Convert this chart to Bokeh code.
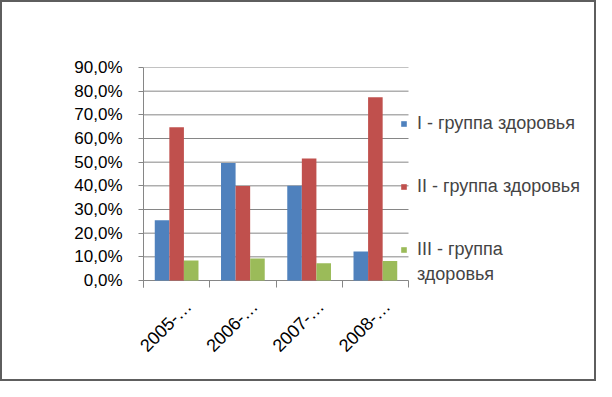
from bokeh.plotting import figure
from bokeh.models import (ColumnDataSource, FixedTicker, Legend, LegendItem, Range1d)
from bokeh.embed import file_html
from bokeh.resources import INLINE

# ---- data ----
periods = ["2005-…", "2006-…", "2007-…", "2008-…"]
group_I = [0.255, 0.496, 0.400, 0.123]
group_II = [0.648, 0.399, 0.516, 0.774]
group_III = [0.085, 0.093, 0.073, 0.082]
series_names = ["I - группа здоровья", "II - группа здоровья", "III - группа"]
series_name_tail = "здоровья"
series_colors = ["#4F81BD", "#C0504D", "#9BBB59"]
y_ticks = [0.0, 0.1, 0.2, 0.3, 0.4, 0.5, 0.6, 0.7, 0.8, 0.9]
y_tick_labels = ["0,0%", "10,0%", "20,0%", "30,0%", "40,0%", "50,0%",
                 "60,0%", "70,0%", "80,0%", "90,0%"]

FONT = "Liberation Sans"
GRID = "#868686"

# ---- layout (pixels) ----
cat_px = 66.25          # width of one category on screen
plot_px = 213           # height of the 0..90% span
below_px = 7            # frame continues below 0 for the category tick marks
frame_w = 442
frame_h = plot_px + below_px
y_max = y_ticks[-1]
y_min = -y_max * below_px / plot_px
x_max = frame_w / cat_px

centers = [i + 0.5 for i in range(len(periods))]
offsets = [-0.22, 0.0, 0.22]
bar_w = 0.22

p = figure(output_backend="svg", toolbar_location=None,
           frame_width=frame_w, frame_height=frame_h,
           min_border_left=141, min_border_right=592 - 141 - frame_w,
           min_border_top=65, min_border_bottom=377 - 65 - frame_h,
           x_range=Range1d(0, x_max), y_range=Range1d(y_min, y_max))
p.styles = {"border": "2px solid #5e5e5e"}
p.outline_line_color = None
p.background_fill_color = "white"
p.border_fill_color = "white"

# horizontal gridlines (incl. the 0 line acting as category axis line)
grid_src = ColumnDataSource(dict(x0=[0] * len(y_ticks), x1=[len(periods)] * len(y_ticks),
                                 y=y_ticks))
p.segment(x0="x0", y0="y", x1="x1", y1="y", source=grid_src,
          line_color=GRID, line_width=1)

renderers = []
for vals, off, col in zip([group_I, group_II, group_III], offsets, series_colors):
    src = ColumnDataSource(dict(x=[c + off for c in centers], top=vals))
    r = p.vbar(x="x", top="top", width=bar_w, bottom=0, source=src,
               fill_color=col, line_color=None)
    renderers.append(r)

# y axis
p.yaxis.ticker = FixedTicker(ticks=y_ticks)
p.yaxis.major_label_overrides = {t: l for t, l in zip(y_ticks, y_tick_labels)}
p.yaxis.major_label_text_font = FONT
p.yaxis.major_label_text_font_size = "17px"
p.yaxis.major_label_text_color = "black"
p.yaxis.axis_line_color = GRID
p.yaxis.major_tick_line_color = GRID
p.yaxis.major_tick_out = 5
p.yaxis.major_tick_in = 0
p.yaxis.minor_tick_line_color = None
p.yaxis.major_label_standoff = 16

# x axis: labels near category, tick marks at category boundaries
label_pos = [i + 0.68 for i in range(len(periods))]
p.xaxis.ticker = FixedTicker(ticks=label_pos, minor_ticks=list(range(len(periods) + 1)))
p.xaxis.major_label_overrides = {t: l for t, l in zip(label_pos, periods)}
p.xaxis.major_label_orientation = 0.785398
p.xaxis.major_label_text_font = FONT
p.xaxis.major_label_text_font_size = "18px"
p.xaxis.major_label_text_color = "black"
p.xaxis.axis_line_color = None
p.xaxis.major_tick_line_color = None
p.xaxis.minor_tick_line_color = GRID
p.xaxis.minor_tick_out = 0
p.xaxis.minor_tick_in = below_px
p.xaxis.major_label_standoff = 10

p.xgrid.grid_line_color = None
p.ygrid.grid_line_color = None

legend_style = dict(glyph_width=7, glyph_height=7, label_height=20,
                    padding=0, margin=0, label_standoff=10,
                    label_text_font=FONT, label_text_font_size="18px",
                    border_line_color=None, background_fill_alpha=0)

items = [LegendItem(label=n, renderers=[r]) for n, r in zip(series_names, renderers)]
legend = Legend(items=items, location=(257, 27), spacing=42, **legend_style)
p.add_layout(legend, "center")

legend_tail = Legend(items=[LegendItem(label=series_name_tail, renderers=[])],
                     location=(257, 2), spacing=0, **legend_style)
p.add_layout(legend_tail, "center")

open("out.html", "w").write(file_html(p, INLINE))
